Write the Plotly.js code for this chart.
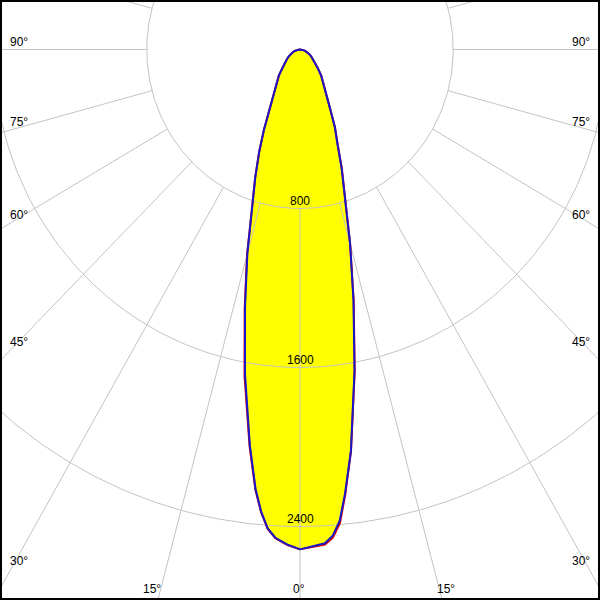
<!DOCTYPE html>
<html>
<head>
<meta charset="utf-8">
<script src="https://cdn.plot.ly/plotly-3.0.1.min.js"></script>
<style>html,body{margin:0;padding:0;background:#fff}#chart{width:600px;height:600px}</style>
</head>
<body>
<div id="chart"></div>
<script>
// Gamma angles (degrees from nadir)
const gamma = [0,1.5,3,4,5,6,7.5,10,12.5,15,17.5,20,22.5,25,27.5,30,35,40,45,50,55,60,65,70,75,80,85,90];
// Luminous intensity (cd) per half-plane
const iC0   = [2515,2500,2488,2452,2380,2248,2037,1640,1290,1009,789,636,509,430,345,285,215,172,130,102,82,66,52,40,28,17,8,0];
const iC180 = [2515,2492,2460,2416,2333,2222,2008,1655,1327,1062,829,682,556,445,350,283,212,172,128,101,82,66,52,40,28,17,8,0];
const iC90  = [2515,2503,2494,2462,2392,2255,2040,1645,1295,1012,792,640,512,432,346,286,216,173,130,102,82,66,52,40,28,17,8,0];
const iC270 = [2515,2494,2462,2418,2336,2228,2015,1668,1335,1068,832,684,557,446,351,284,213,172,128,101,82,66,52,40,28,17,8,0];
// Grid
const rings = [800,1600,2400,3200];
const ringLabels = ['800','1600','2400'];
const spokeAngles = [];
for (let a = -180; a < 180; a += 15) spokeAngles.push(a);
const leftAngleLabels = ['90°','75°','60°','45°','30°'];
const rightAngleLabels = ['90°','75°','60°','45°','30°'];
const bottomAngleLabels = ['15°','0°','15°'];

// layout positions (pixels)
const leftLabelY = [42,121.5,215,341.5,561];
const rightLabelY = [42,121.5,215,341.5,561];
const bottomLabelX = [152,299,446];

const d2r = Math.PI/180;
function halfPlanes(right, left){
  const x=[], y=[];
  for (let i=0;i<gamma.length;i++){ x.push(right[i]*Math.sin(gamma[i]*d2r)); y.push(-right[i]*Math.cos(gamma[i]*d2r)); }
  for (let i=gamma.length-1;i>=0;i--){ x.push(-left[i]*Math.sin(gamma[i]*d2r)); y.push(-left[i]*Math.cos(gamma[i]*d2r)); }
  x.push(x[0]); y.push(y[0]);
  return {x,y};
}
const blue = halfPlanes(iC0, iC180);
const red = halfPlanes(iC90, iC270);

const rx=[], ry=[];
rings.forEach(r=>{ for(let t=0;t<=360;t+=1){ rx.push(r*Math.sin(t*d2r)); ry.push(-r*Math.cos(t*d2r)); } rx.push(null); ry.push(null); });
const sx=[], sy=[];
spokeAngles.forEach(a=>{ sx.push(rings[0]*Math.sin(a*d2r), 5000*Math.sin(a*d2r), null); sy.push(-rings[0]*Math.cos(a*d2r), -5000*Math.cos(a*d2r), null); });

const gridColor = '#c4c4c4';
const traces = [
  {x: blue.x, y: blue.y, type:'scatter', mode:'lines', fill:'toself', fillcolor:'#ffff00', line:{width:0, color:'rgba(0,0,0,0)'}, hoverinfo:'skip'},
  {x: rx, y: ry, type:'scatter', mode:'lines', line:{color:gridColor, width:1}, hoverinfo:'skip'},
  {x: sx, y: sy, type:'scatter', mode:'lines', line:{color:gridColor, width:1}, hoverinfo:'skip'},
  {x: red.x, y: red.y, type:'scatter', mode:'lines', line:{color:'#e00000', width:2}, hoverinfo:'skip'},
  {x: blue.x, y: blue.y, type:'scatter', mode:'lines', line:{color:'#1818c8', width:2}, hoverinfo:'skip'}
];

const font = {family:'Liberation Sans, Arial, sans-serif', size:12, color:'#000000'};
const ann = [];
ringLabels.forEach((t,i)=>ann.push({x:0, y:-rings[i], xref:'x', yref:'y', text:t, showarrow:false, yanchor:'bottom', xanchor:'center', font:Object.assign({},font), yshift:-1}));
leftAngleLabels.forEach((t,i)=>ann.push({x:8/600, y:1-leftLabelY[i]/600, xref:'paper', yref:'paper', text:t, showarrow:false, xanchor:'left', yanchor:'middle', font:Object.assign({},font)}));
rightAngleLabels.forEach((t,i)=>ann.push({x:570/600, y:1-rightLabelY[i]/600, xref:'paper', yref:'paper', text:t, showarrow:false, xanchor:'left', yanchor:'middle', font:Object.assign({},font)}));
bottomAngleLabels.forEach((t,i)=>ann.push({x:bottomLabelX[i]/600, y:1-589/600, xref:'paper', yref:'paper', text:t, showarrow:false, xanchor:'center', yanchor:'middle', font:Object.assign({},font)}));

const pxX = 153.2/800, pxY = 159/800, cy = 49.5;
const layout = {
  width:600, height:600, margin:{l:0,r:0,t:0,b:0,pad:0},
  paper_bgcolor:'#fff', plot_bgcolor:'#fff', showlegend:false,
  xaxis:{range:[-300/pxX, 300/pxX], visible:false, fixedrange:true},
  yaxis:{range:[-(600-cy)/pxY, cy/pxY], visible:false, fixedrange:true},
  annotations: ann,
  shapes:[{type:'rect', xref:'paper', yref:'paper', x0:0, x1:1, y0:0, y1:1, line:{color:'#000', width:4}}]
};
Plotly.newPlot('chart', traces, layout, {displayModeBar:false, staticPlot:true});
</script>
</body>
</html>
